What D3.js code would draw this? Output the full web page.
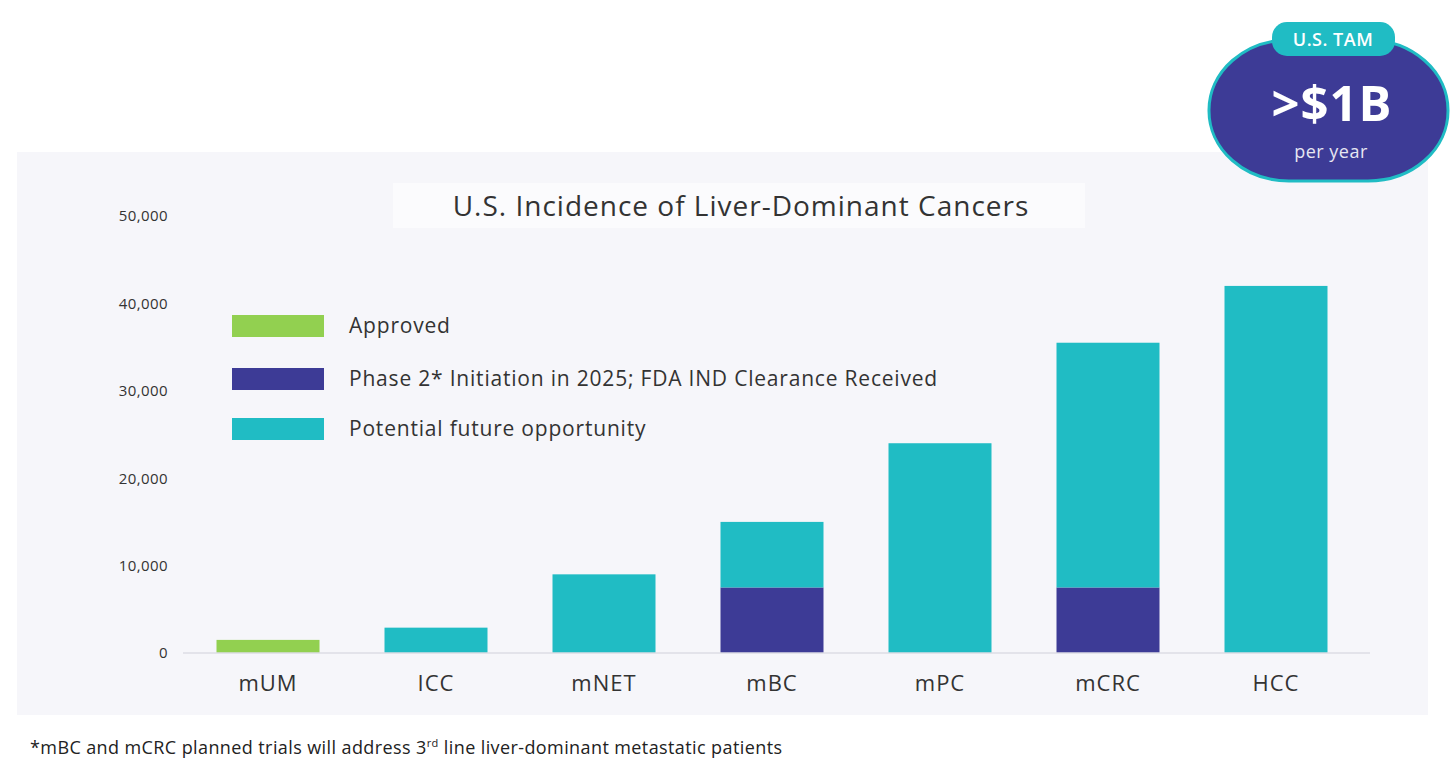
<!DOCTYPE html>
<html>
<head>
<meta charset="utf-8">
<script src="https://cdn.jsdelivr.net/npm/d3@7"></script>
<style>
  body { margin: 0; background: #ffffff; }
  svg { display: block; font-family: "Open Sans", "Noto Sans", sans-serif; }
</style>
</head>
<body>
<svg id="chart"></svg>
<script>
//Chart data
var categories = ["mUM", "ICC", "mNET", "mBC", "mPC", "mCRC", "HCC"];
var approved = [1500, 0, 0, 0, 0, 0, 0];
var phase2 = [0, 0, 0, 7500, 0, 7500, 0];
var future = [0, 2900, 9000, 7500, 24000, 28000, 42000];
var seriesNames = ["Approved", "Phase 2* Initiation in 2025; FDA IND Clearance Received", "Potential future opportunity"];
var seriesColors = ["#92d050", "#3d3b96", "#20bcc4"];
var yTicks = [0, 10000, 20000, 30000, 40000, 50000];

var width = 1456, height = 767;

var svg = d3.select("#chart")
            .attr("width", width)
            .attr("height", height);

//Panel background
svg.append("rect")
    .attr("x", 17).attr("y", 152)
    .attr("width", 1411).attr("height", 563)
    .attr("fill", "#f6f6fa");

//Stacked table
var table = categories.map(function(c, i){
    return { cat: c, approved: approved[i], phase2: phase2[i], future: future[i] };
});
var stack = d3.stack().keys(["approved", "phase2", "future"]);
var stacked = stack(table);

//Scales
var xScale = d3.scaleBand()
               .domain(categories)
               .range([184, 1360])
               .paddingInner(0.387)
               .paddingOuter(0.1935);

var yScale = d3.scaleLinear()
               .domain([0, 50000])
               .range([653, 216]);

//Y-axis labels
var yAxisGen = d3.axisLeft(yScale)
                 .tickValues(yTicks)
                 .tickSize(0)
                 .tickPadding(0)
                 .tickFormat(d3.format(","));
var yAxis = svg.append("g")
               .attr("transform", "translate(168,0)")
               .call(yAxisGen);
yAxis.select(".domain").remove();
yAxis.selectAll("text")
     .style("font-size", "15px")
     .style("letter-spacing", "0.4px")
     .style("font-family", "'Open Sans', sans-serif")
     .attr("fill", "#333");

//Bars
svg.append("g")
    .selectAll("g")
    .data(stacked)
    .join("g")
    .attr("fill", function(d, i){ return seriesColors[i]; })
    .selectAll("rect")
    .data(function(d){ return d; })
    .join("rect")
    .attr("x", function(d){ return xScale(d.data.cat); })
    .attr("width", xScale.bandwidth())
    .attr("y", function(d){ return yScale(d[1]); })
    .attr("height", function(d){ return yScale(d[0]) - yScale(d[1]); });

//X-axis
var xAxisGen = d3.axisBottom(xScale).tickSize(0).tickPadding(22);
var xAxis = svg.append("g")
               .attr("transform", "translate(0,653)")
               .call(xAxisGen);
xAxis.select(".domain")
     .attr("stroke", "#dcdce4")
     .attr("stroke-width", 1.5)
     .attr("d", "M0,0H1187")
     .attr("transform", "translate(183,0)");
xAxis.selectAll("text")
     .style("font-size", "22px")
     .style("letter-spacing", "1px")
     .style("font-family", "'Open Sans', sans-serif")
     .attr("fill", "#333");

//Title box
svg.append("rect")
    .attr("x", 393).attr("y", 183)
    .attr("width", 692).attr("height", 45)
    .attr("fill", "#fbfbfd");
svg.append("text")
    .attr("x", 741).attr("y", 216)
    .attr("text-anchor", "middle")
    .style("font-size", "28px")
    .style("letter-spacing", "1px")
    .attr("fill", "#333")
    .text("U.S. Incidence of Liver-Dominant Cancers");

//Legend
var legendY = [326, 379, 429];
var legend = svg.append("g")
    .selectAll("g")
    .data(seriesNames)
    .join("g")
    .attr("transform", function(d, i){ return "translate(232," + legendY[i] + ")"; });
legend.append("rect")
    .attr("x", 0).attr("y", -11)
    .attr("width", 92).attr("height", 22)
    .attr("fill", function(d, i){ return seriesColors[i]; });
legend.append("text")
    .attr("x", 117).attr("y", 7)
    .style("font-size", "21px")
    .style("letter-spacing", "0.8px")
    .attr("fill", "#333")
    .text(function(d){ return d; });

//TAM badge
var badge = svg.append("g");
badge.append("rect")
    .attr("x", 1209).attr("y", 40)
    .attr("width", 239).attr("height", 141)
    .attr("rx", 80).attr("ry", 70)
    .attr("fill", "#3d3b96")
    .attr("stroke", "#20bcc4")
    .attr("stroke-width", 3);
badge.append("rect")
    .attr("x", 1272).attr("y", 22)
    .attr("width", 123).attr("height", 34)
    .attr("rx", 15)
    .attr("fill", "#20bcc4");
badge.append("text")
    .attr("x", 1333).attr("y", 46)
    .attr("text-anchor", "middle")
    .style("font-size", "18px")
    .style("font-weight", "600")
    .style("letter-spacing", "0.5px")
    .attr("fill", "#ffffff")
    .text("U.S. TAM");
badge.append("text")
    .attr("x", 1332).attr("y", 121)
    .attr("text-anchor", "middle")
    .style("font-size", "49px")
    .style("font-weight", "bold")
    .style("letter-spacing", "1px")
    .attr("fill", "#ffffff")
    .text(">$1B");
badge.append("text")
    .attr("x", 1331).attr("y", 158)
    .attr("text-anchor", "middle")
    .style("font-size", "18px")
    .style("letter-spacing", "0.5px")
    .attr("fill", "#e6e6f2")
    .text("per year");

//Footnote
var foot = svg.append("text")
    .attr("x", 30).attr("y", 754)
    .style("font-size", "18px")
    .style("letter-spacing", "0.4px")
    .attr("fill", "#222");
foot.append("tspan").text("*mBC and mCRC planned trials will address 3");
foot.append("tspan").attr("dy", -7).style("font-size", "11px").text("rd");
foot.append("tspan").attr("dy", 7).text(" line liver-dominant metastatic patients");
</script>
</body>
</html>
